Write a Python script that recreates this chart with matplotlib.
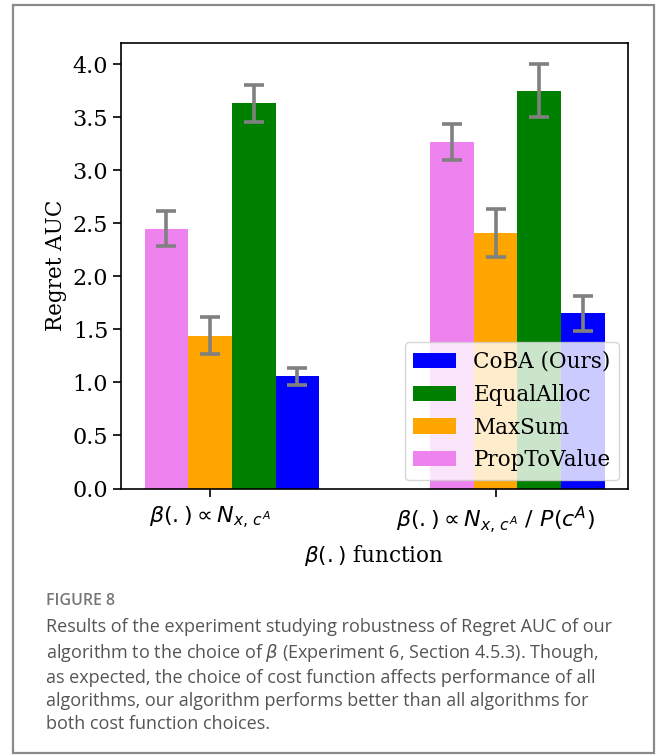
import numpy as np
import matplotlib
matplotlib.use("Agg")
import matplotlib.pyplot as plt
from matplotlib.patches import Rectangle

plt.rcParams["font.family"] = "DejaVu Serif"

groups = [r"$\beta(.) \propto N_{x,\, c^A}$", r"$\beta(.) \propto N_{x,\, c^A}\ /\ P(c^A)$"]
methods = ["PropToValue", "MaxSum", "EqualAlloc", "CoBA (Ours)"]
colors = ["violet", "orange", "green", "blue"]

# mean regret AUC per method, one value per group
prop_to_value = [2.45, 3.27]
max_sum = [1.44, 2.41]
equal_alloc = [3.63, 3.75]
coba = [1.06, 1.65]

prop_to_value_err = [0.165, 0.17]
max_sum_err = [0.175, 0.225]
equal_alloc_err = [0.175, 0.25]
coba_err = [0.08, 0.165]

means = [prop_to_value, max_sum, equal_alloc, coba]
errs = [prop_to_value_err, max_sum_err, equal_alloc_err, coba_err]

W, H = 659, 756
fig = plt.figure(figsize=(W / 100, H / 100), dpi=100)

# outer frame of the figure panel
fig.patches.append(Rectangle((13 / W, 1 - 753 / H), (654 - 13) / W, (753 - 5) / H,
                             transform=fig.transFigure, fill=False,
                             edgecolor="#8a8a8a", linewidth=1.6))

ax = fig.add_axes([120.7 / W, 1 - 488.5 / H, (628 - 120.7) / W, (488.5 - 43) / H])

x = np.arange(len(groups))
width = 0.153
bars = []
for i, (m, e) in enumerate(zip(means, errs)):
    b = ax.bar(x + (i - 1) * width, m, width, yerr=e, color=colors[i],
               error_kw=dict(ecolor="gray", elinewidth=2.6, capsize=7.5, capthick=2.6),
               label=methods[i])
    bars.append(b)

ax.set_ylim(0, 4.2)
ax.set_xlim(-0.313, 1.464)
ax.set_yticks(np.arange(0, 4.01, 0.5))
ax.set_xticks(x)
ax.set_xticklabels(groups)
ax.tick_params(labelsize=16, length=5.5, width=1.2)
ax.tick_params(axis="x", pad=6)
for s in ax.spines.values():
    s.set_linewidth(1.2)
ax.set_ylabel("Regret AUC", fontsize=15.5)
ax.set_xlabel(r"$\beta(.)$ function", fontsize=15.5, labelpad=5)

ax.legend(handles=bars[::-1], labels=methods[::-1], loc="lower right", fontsize=15.5,
          borderaxespad=0.4)

fig.text(46 / W, 1 - 601 / H, "FIGURE 8", fontsize=11.5, family="Open Sans",
         weight="semibold", color="#777777", va="center")
caption = ("Results of the experiment studying robustness of Regret AUC of our\n"
           "algorithm to the choice of $\\beta$ (Experiment 6, Section 4.5.3). Though,\n"
           "as expected, the choice of cost function affects performance of all\n"
           "algorithms, our algorithm performs better than all algorithms for\n"
           "both cost function choices.")
fig.text(46 / W, 1 - 618 / H, caption, fontsize=13.0, family="Open Sans",
         color="#555555", va="top", linespacing=1.36)

fig.savefig("out.png", dpi=100)
